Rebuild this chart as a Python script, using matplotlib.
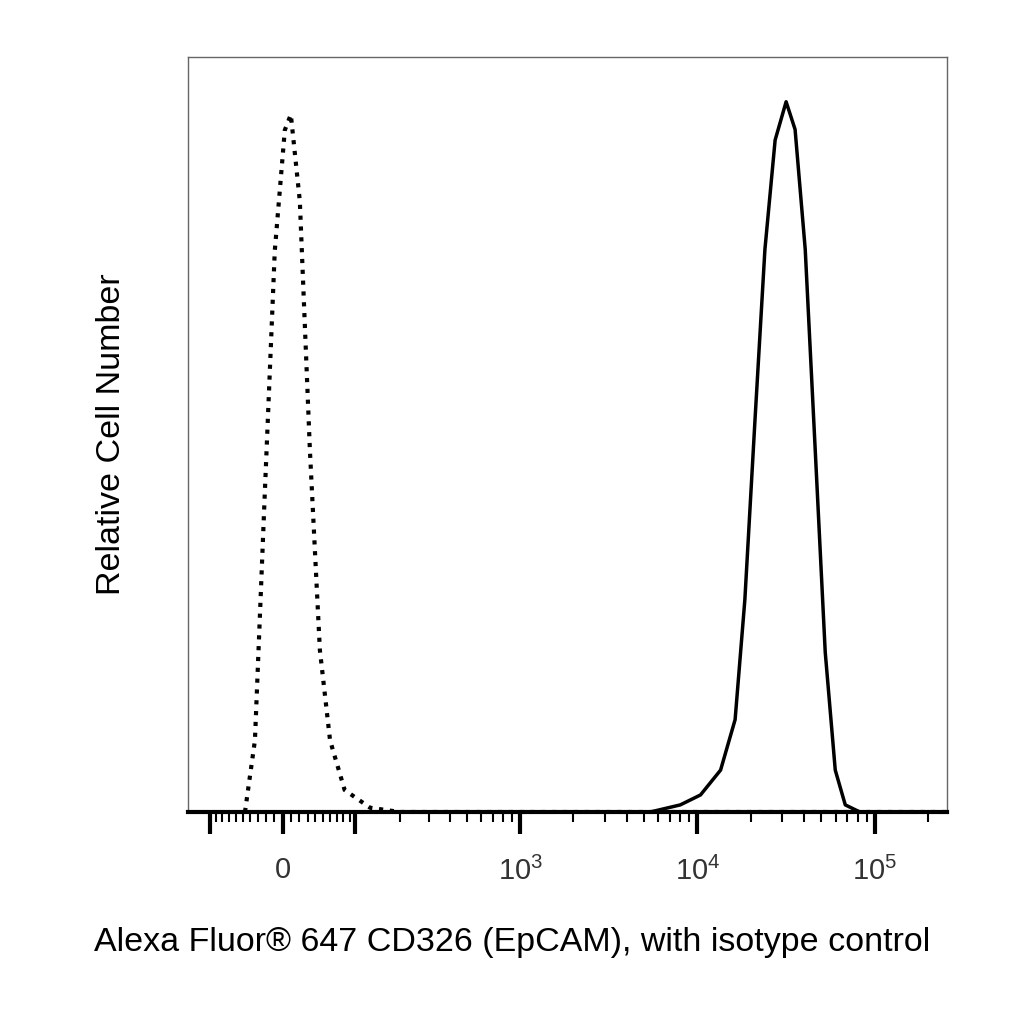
import numpy as np
import matplotlib
matplotlib.use("Agg")
from matplotlib import pyplot as plt

plt.rcParams['font.family'] = ['Liberation Sans', 'DejaVu Sans']
plt.rcParams['mathtext.fontset'] = 'custom'
plt.rcParams['mathtext.rm'] = 'Liberation Sans'
plt.rcParams['mathtext.it'] = 'Liberation Sans'

W = 92.0  # biexponential-like linear width

# isotype control (dotted)
iso_x = [-47, -34, -22, -9.6, 2.4, 9.6, 20.5, 33, 46, 60, 82, 128, 200, 1000, 10000, 100000, 255000]
iso_y = [0, 10.1, 44, 79, 96, 98.2, 86, 51, 22.8, 10.1, 3.1, 0.6, 0, 0, 0, 0, 0]

# CD326 stained (solid)
cd_x = [-144, 1000, 5420, 8000, 10400, 13500, 16300, 18500, 21100, 24000, 27400, 31600,
        35500, 40500, 46100, 52500, 59800, 68100, 82300, 255000]
cd_y = [0, 0, 0, 1, 2.4, 5.9, 13, 29.9, 55.2, 79.2, 94.6, 100,
        96.1, 79.2, 51, 22.5, 5.9, 1, 0, 0]

major_ticks = [-100, 0, 100, 1000, 10000, 100000]
minor_ticks = ([-90, -80, -70, -60, -50, -40, -30, -20, -10, 10, 20, 30, 40, 50, 60, 70, 80, 90]
               + [200, 300, 400, 500, 600, 700, 800, 900]
               + [2000, 3000, 4000, 5000, 6000, 7000, 8000, 9000]
               + [20000, 30000, 40000, 50000, 60000, 70000, 80000, 90000, 200000])
tick_labels = ['', '0', '', r'$10^3$', r'$10^4$', r'$10^5$']

fig = plt.figure(figsize=(10.24, 10.24), dpi=100)
ax = fig.add_axes([188/1024, 1 - 812/1024, (947-188)/1024, (812-57)/1024])
ax.set_xscale('function', functions=(lambda x: np.arcsinh(x / W), lambda t: W * np.sinh(t)))

ax.plot(iso_x, iso_y, color='black', linestyle=(0, (1, 1.6)), linewidth=3)
ax.plot(cd_x, cd_y, color='black', linewidth=2.5)

ax.set_xlim(-144, 255000)
ax.set_ylim(0, 106.3)
ax.set_xticks(major_ticks)
ax.set_xticklabels(tick_labels, fontsize=21, color='#333333')
ax.set_xticks(minor_ticks, minor=True)
ax.tick_params(axis='x', which='major', length=16, width=3, direction='out', pad=16)
ax.tick_params(axis='x', which='minor', length=7, width=1.5, direction='out')
ax.set_yticks([])
ax.spines['bottom'].set_linewidth(3)
for s in ['left', 'right', 'top']:
    ax.spines[s].set_color('#666666')
    ax.spines[s].set_linewidth(1)

fig.text(0.5, 1 - 943/1024, 'Alexa Fluor® 647 CD326 (EpCAM), with isotype control',
         fontsize=24.5, ha='center', va='center')
ax.set_ylabel('Relative Cell Number', fontsize=24.5, labelpad=44)

plt.savefig('out.png', dpi=100)
